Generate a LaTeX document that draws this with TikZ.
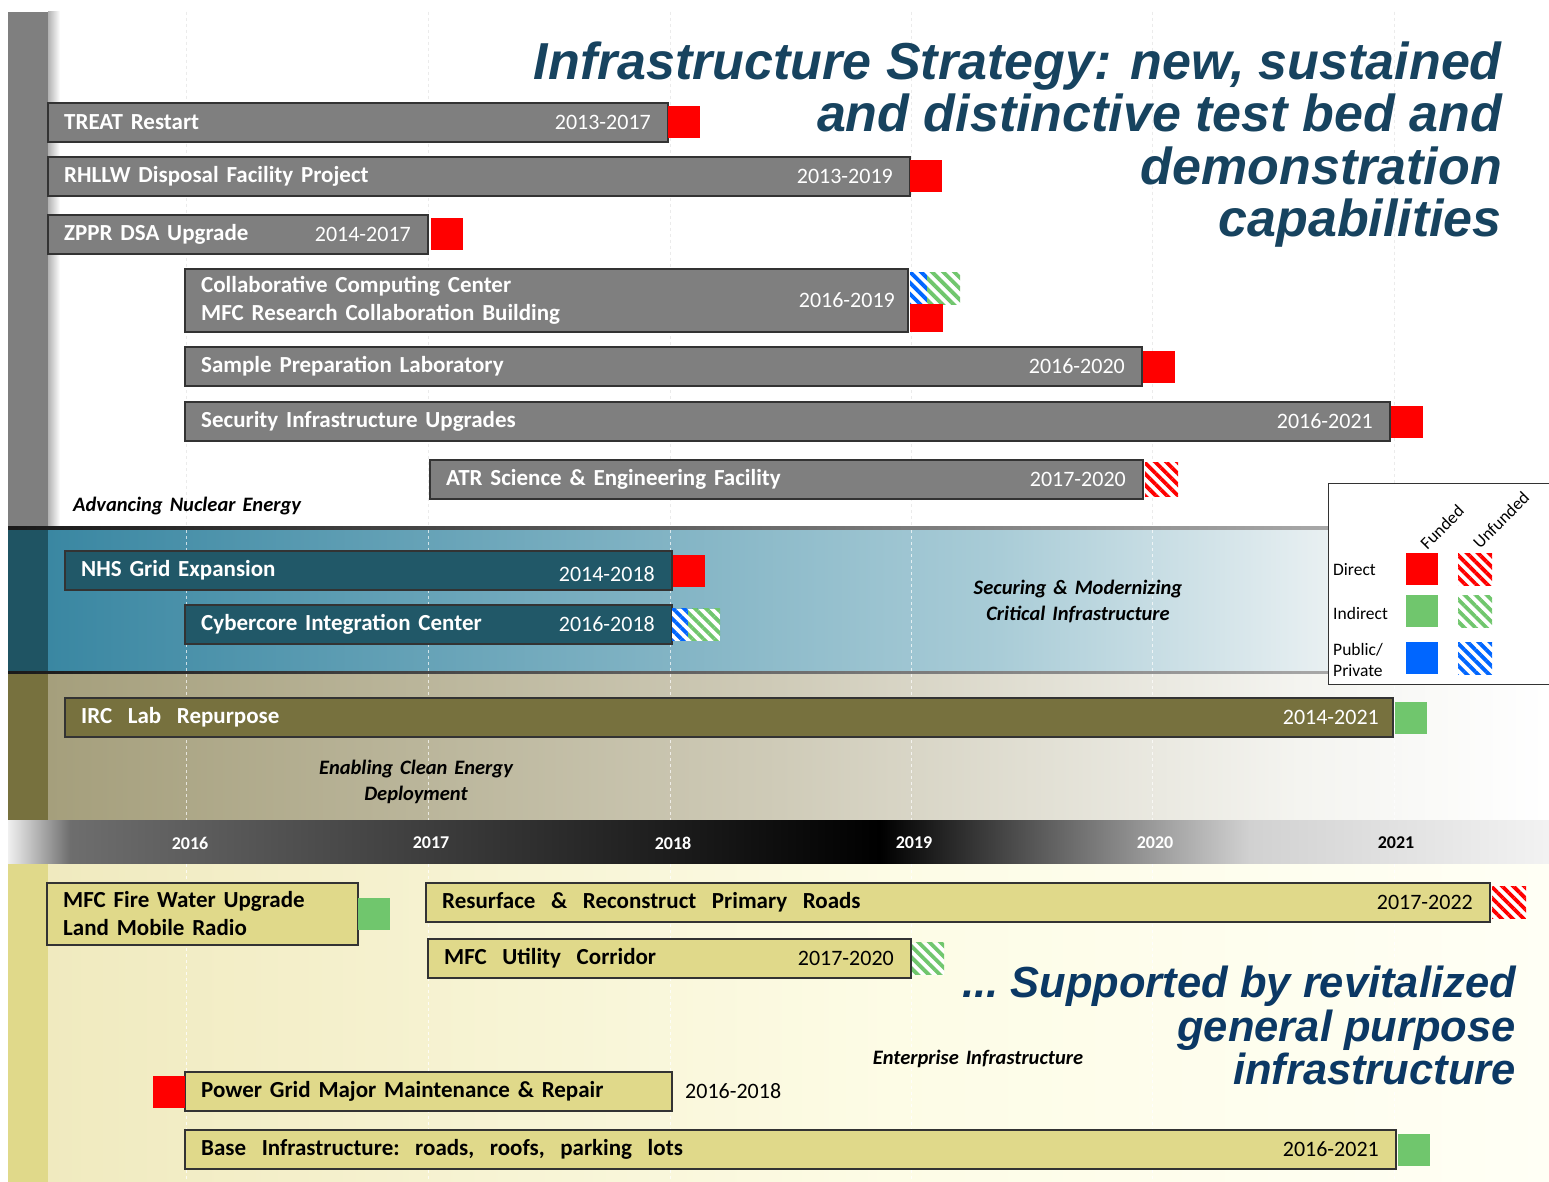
\documentclass[tikz,border=0pt]{standalone}
\usepackage{fontspec}
\setmainfont[WordSpace=1.5]{Carlito}
\newfontfamily\headfont{Liberation Sans}
\usepackage{xcolor,tikz}
\usetikzlibrary{patterns.meta,positioning,calc}

\definecolor{barGrey}{HTML}{7F7F7F}
\definecolor{barTeal}{HTML}{215868}
\definecolor{barOlive}{HTML}{77713E}
\definecolor{barKhaki}{HTML}{E0D98A}
\definecolor{fundRed}{HTML}{FF0000}
\definecolor{fundGreen}{HTML}{70C66D}
\definecolor{fundBlue}{HTML}{0066FF}
\definecolor{headBlue}{HTML}{17435F}
\definecolor{footBlue}{HTML}{0B3864}
\definecolor{tealA}{HTML}{3A87A2}
\definecolor{tealB}{HTML}{A9CCD7}
\definecolor{tealC}{HTML}{E9F0F2}
\definecolor{oliveA}{HTML}{A59F7C}
\definecolor{oliveB}{HTML}{CFCBB8}
\definecolor{oliveC}{HTML}{F4F4F0}
\definecolor{sandA}{HTML}{F0EABF}
\definecolor{sandB}{HTML}{FDFCE6}
\definecolor{sandC}{HTML}{FFFFF5}

\begin{document}
\begin{tikzpicture}[x=1pt,y=-1pt,
  bar/.style={draw=black!80,line width=1.1pt,minimum height=39pt,inner sep=0pt,outer sep=0pt,anchor=north west},
  greybar/.style={bar,fill=barGrey},
  tealbar/.style={bar,fill=barTeal},
  olivebar/.style={bar,fill=barOlive},
  khakibar/.style={bar,fill=barKhaki},
  barlbl/.style={font=\bfseries\fontsize{23}{28}\selectfont,text=white,align=left,anchor=west,inner sep=0pt,xshift=16pt},
  baryr/.style={font=\fontsize{22}{24}\selectfont,text=white,anchor=east,inner sep=0pt,xshift=-17pt},
  fundbox/.style={minimum width=32pt,minimum height=32pt,inner sep=0pt,outer sep=0pt},
  directf/.style={fundbox,fill=fundRed},
  indirectf/.style={fundbox,fill=fundGreen},
  publicf/.style={fundbox,fill=fundBlue},
  hatch/.style={fundbox,preaction={fill=white},pattern={Lines[angle=-45,distance=7.8pt,line width=3.8pt]}},
  directu/.style={hatch,pattern color=fundRed},
  indirectu/.style={hatch,pattern color=fundGreen},
  publicu/.style={hatch,pattern color=fundBlue},
  section/.style={font=\bfseries\itshape\fontsize{20.5}{26}\selectfont,align=center,inner sep=0pt},
  yearlbl/.style={font=\bfseries\fontsize{18}{20}\selectfont,text=white,inner sep=0pt},
  legendlbl/.style={font=\fontsize{17.5}{21}\selectfont,align=left,anchor=west,inner sep=0pt}]

\useasboundingbox (0,0) rectangle (1549,1182);
\clip (0,0) rectangle (1549,1182);
\fill[white] (0,0) rectangle (1549,1182);

% --- bands ---
\fill[barGrey] (8,12) rectangle (48,527);
\shade[left color=black!30,right color=white] (48,12) rectangle (60,527);

\shade[left color=tealA,right color=tealB] (48,528) rectangle (1000,672);
\shade[left color=tealB,right color=tealC] (1000,528) rectangle (1330,672);
\shade[left color=tealC,right color=white] (1330,528) rectangle (1549,672);
\fill[barTeal!95!black] (8,528) rectangle (48,672);
\shade[left color=black!90,right color=black!25] (8,526.5) rectangle (1549,529.5);
\shade[left color=black!90,right color=black!25] (8,671) rectangle (1549,674);

\shade[left color=oliveA,right color=oliveB] (48,674) rectangle (780,820);
\shade[left color=oliveB,right color=oliveC] (780,674) rectangle (1300,820);
\shade[left color=oliveC,right color=white] (1300,674) rectangle (1549,820);
\fill[barOlive] (8,674) rectangle (48,820);

\shade[left color=black!6,right color=black!57] (8,820) rectangle (70,864);
\shade[left color=black!57,right color=black] (70,820) rectangle (880,864);
\shade[left color=black,right color=black!18] (880,820) rectangle (1250,864);
\shade[left color=black!18,right color=black!5] (1250,820) rectangle (1549,864);

\shade[left color=sandA,right color=sandB] (48,864) rectangle (900,1182);
\shade[left color=sandB,right color=sandC] (900,864) rectangle (1549,1182);
\fill[barKhaki] (8,864) rectangle (48,1182);

% year lines
\foreach \x in {186,428,670,911,1152,1394} {
  \draw[black!8,dashed] (\x,12) -- (\x,526);
  \draw[white,opacity=.7,dashed] (\x,530) -- (\x,820);
  \draw[white,opacity=.8,dashed] (\x,864) -- (\x,1182);
}

% timeline
\foreach \x/\yr in {190/2016,431/2017,673/2018,914/2019,1155/2020}
  \node[yearlbl] (yr\yr) at (\x,843) {\yr};
\node[yearlbl,text=black] (yr2021) at (1396,843) {2021};

% --- nuclear energy ---
\node[greybar,minimum width=620] (treat) at (48,103) {};
\node[barlbl] (treat-l) at (treat.west) {TREAT Restart};
\node[baryr] (treat-y) at (treat.east) {2013-2017};
\node[directf,right=0pt of treat] (treat-f) {};

\node[greybar,minimum width=862] (rhllw) at (48,157) {};
\node[barlbl] (rhllw-l) at (rhllw.west) {RHLLW Disposal Facility Project};
\node[baryr] (rhllw-y) at (rhllw.east) {2013-2019};
\node[directf,right=0pt of rhllw] (rhllw-f) {};

\node[greybar,minimum width=380] (zppr) at (48,215) {};
\node[barlbl] (zppr-l) at (zppr.west) {ZPPR DSA Upgrade};
\node[baryr] (zppr-y) at (zppr.east) {2014-2017};
\node[directf,right=3pt of zppr] (zppr-f) {};

\node[greybar,minimum width=723,minimum height=63] (ccc) at (185,269) {};
\node[barlbl] (ccc-l) at (ccc.west) {Collaborative Computing Center\\MFC Research Collaboration Building};
\node[baryr,xshift=4pt] (ccc-y) at (ccc.east) {2016-2019};
\node[publicu,anchor=north west] (ccc-p) at (910,272) {};
\node[indirectu,anchor=north west,minimum width=33] (ccc-i) at (927,272) {};
\node[directf,anchor=north west,minimum width=33,minimum height=28] (ccc-f) at (910,304) {};

\node[greybar,minimum width=957] (spl) at (185,347) {};
\node[barlbl] (spl-l) at (spl.west) {Sample Preparation Laboratory};
\node[baryr] (spl-y) at (spl.east) {2016-2020};
\node[directf,right=1pt of spl] (spl-f) {};

\node[greybar,minimum width=1205] (siu) at (185,402) {};
\node[barlbl] (siu-l) at (siu.west) {Security Infrastructure Upgrades};
\node[baryr] (siu-y) at (siu.east) {2016-2021};
\node[directf,right=1pt of siu] (siu-f) {};

\node[greybar,minimum width=713] (atr) at (430,460) {};
\node[barlbl] (atr-l) at (atr.west) {ATR Science \& Engineering Facility};
\node[baryr] (atr-y) at (atr.east) {2017-2020};
\node[directu,right=2pt of atr,minimum width=33,minimum height=34] (atr-f) {};

\node[section,anchor=west] (nuclear) at (73,506) {Advancing Nuclear Energy};

% --- critical infrastructure ---
\node[tealbar,minimum width=607] (nhs) at (65,551) {};
\node[barlbl] (nhs-l) at (nhs.west) {NHS Grid Expansion};
\node[baryr,yshift=-4pt] (nhs-y) at (nhs.east) {2014-2018};
\node[directf,right=1pt of nhs] (nhs-f) {};

\node[tealbar,minimum width=487] (cyber) at (185,605) {};
\node[barlbl] (cyber-l) at (cyber.west) {Cybercore Integration Center};
\node[baryr] (cyber-y) at (cyber.east) {2016-2018};
\node[publicu,right=0pt of cyber] (cyber-p) {};
\node[indirectu,anchor=west] (cyber-i) at ($(cyber.east)+(16,0)$) {};

\node[section] (securing) at (1078,601) {Securing \& Modernizing\\Critical Infrastructure};

% --- clean energy ---
\node[olivebar,minimum width=1328] (irc) at (65,698) {};
\node[barlbl] (irc-l) at (irc.west) {IRC\ \ Lab\ \ Repurpose};
\node[baryr,xshift=3pt] (irc-y) at (irc.east) {2014-2021};
\node[indirectf,right=2pt of irc] (irc-f) {};

\node[section] (clean) at (416,782) {Enabling Clean Energy\\Deployment};

% --- enterprise infrastructure ---
\node[khakibar,minimum width=311,minimum height=62] (fire) at (47,883) {};
\node[barlbl,text=black] (fire-l) at (fire.west) {MFC Fire Water Upgrade\\Land Mobile Radio};
\node[indirectf,right=0pt of fire] (fire-f) {};

\node[khakibar,minimum width=1064] (roads) at (426,883) {};
\node[barlbl,text=black] (roads-l) at (roads.west) {Resurface\ \ \&\ \ Reconstruct\ \ Primary\ \ Roads};
\node[baryr,text=black] (roads-y) at (roads.east) {2017-2022};
\node[directu,right=2pt of roads,minimum width=34] (roads-f) {};

\node[khakibar,minimum width=483] (util) at (428,939) {};
\node[barlbl,text=black] (util-l) at (util.west) {MFC\ \ Utility\ \ Corridor};
\node[baryr,text=black] (util-y) at (util.east) {2017-2020};
\node[indirectu,right=1pt of util] (util-f) {};

\node[khakibar,minimum width=487] (grid) at (185,1072) {};
\node[barlbl,text=black] (grid-l) at (grid.west) {Power Grid Major Maintenance \& Repair};
\node[baryr,text=black,anchor=west,xshift=30pt] (grid-y) at (grid.east) {2016-2018};
\node[directf,left=0pt of grid] (grid-f) {};

\node[khakibar,minimum width=1211] (base) at (185,1130) {};
\node[barlbl,text=black] (base-l) at (base.west) {Base\ \ Infrastructure:\ \ roads,\ \ roofs,\ \ parking\ \ lots};
\node[baryr,text=black] (base-y) at (base.east) {2016-2021};
\node[indirectf,right=2pt of base] (base-f) {};

\node[section] (enterprise) at (978,1059) {Enterprise Infrastructure};

% --- headings ---
\node[anchor=north east,align=right,inner sep=0pt,text=headBlue,
  font=\headfont\bfseries\itshape\fontsize{52}{52.5}\selectfont] (head) at (1502,41.5)
  {Infrastructure Strategy: new, sustained\\and distinctive test bed and\\demonstration\\capabilities};
\node[anchor=north east,align=right,inner sep=0pt,text=footBlue,
  font=\headfont\bfseries\itshape\fontsize{43.5}{43.5}\selectfont] (foot) at (1516,966)
  {...\ Supported by revitalized\\general purpose\\infrastructure};

% --- legend ---
\draw[black!80,fill=white,line width=1pt] (1328,483) rectangle (1560,684);
\node[legendlbl,rotate=45,anchor=center] (funded) at (1442,527) {Funded};
\node[legendlbl,rotate=45,anchor=center] (unfunded) at (1501,520) {Unfunded};
\node[legendlbl] (direct) at (1333,570) {Direct};
\node[legendlbl] (indirect) at (1333,613) {Indirect};
\node[legendlbl] (public) at (1333,659.5) {Public/\\Private};
\node[directf,anchor=north west] (key-df) at (1406,553) {};
\node[directu,anchor=north west,minimum width=34] (key-du) at (1458,553) {};
\node[indirectf,anchor=north west] (key-if) at (1406,595) {};
\node[indirectu,anchor=north west,minimum width=34] (key-iu) at (1458,595) {};
\node[publicf,anchor=north west] (key-pf) at (1406,642) {};
\node[publicu,anchor=north west,minimum width=34] (key-pu) at (1458,642) {};
\end{tikzpicture}
\end{document}
